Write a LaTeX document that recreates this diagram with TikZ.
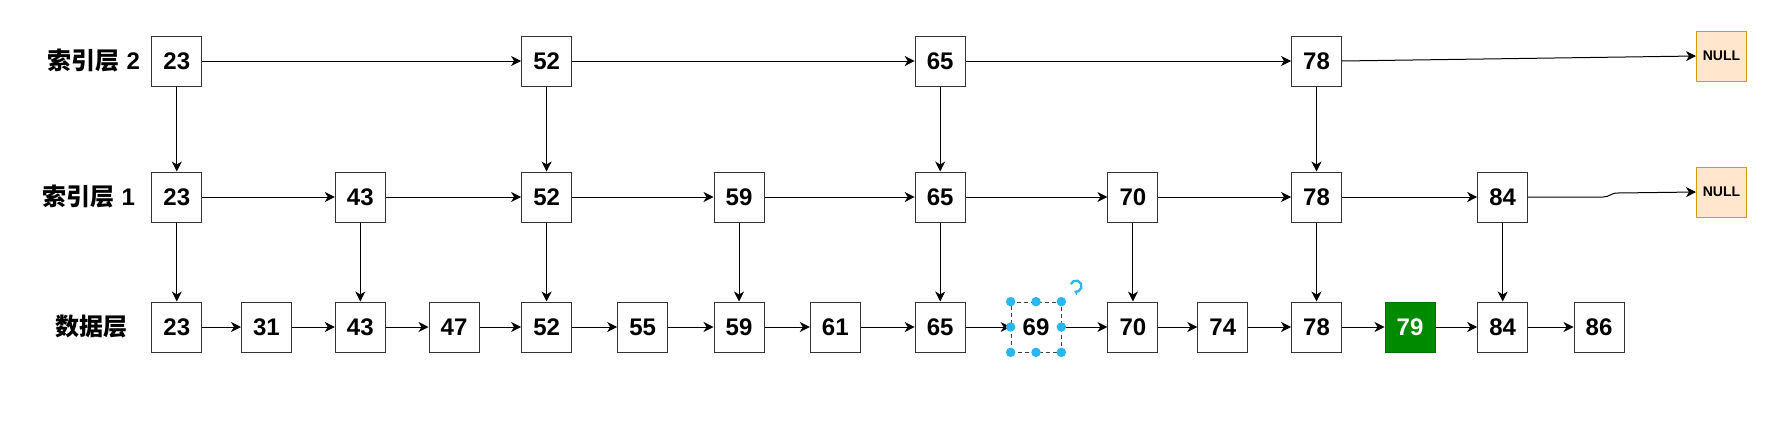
\documentclass[tikz,border=0pt]{standalone}
\usepackage{fontspec}
\setmainfont{Liberation Sans}
\newfontfamily\cjk{Noto Sans CJK SC}
\usetikzlibrary{arrows.meta}
\definecolor{nullfill}{HTML}{FFE6CC}
\definecolor{nulldraw}{HTML}{D79B00}
\definecolor{selblue}{HTML}{29B6F2}
\definecolor{greenfill}{HTML}{008A00}
\begin{document}
\begin{tikzpicture}[x=1pt,y=-1pt,
  cell/.style={draw=black!80, line width=1pt, fill=white, minimum width=50pt, minimum height=50pt, inner sep=0pt, font=\fontsize{24}{24}\selectfont\bfseries},
  greencell/.style={cell, fill=greenfill, draw=greenfill!80!black, text=white},
  selcell/.style={cell, draw=black!75, line width=0.7pt, dash pattern=on 4pt off 3pt},
  nullcell/.style={draw=nulldraw, line width=1pt, fill=nullfill, minimum width=50pt, minimum height=50pt, inner sep=0pt, font=\fontsize{14}{14}\selectfont\bfseries},
  layerlabel/.style={inner sep=0pt, font=\fontsize{24}{24}\selectfont\bfseries},
  link/.style={-{Stealth[length=10pt,width=10pt,inset=3pt]}, line width=1pt, black},
  handle/.style={circle, fill=selblue, inner sep=0pt, minimum size=9.5pt}
]
\useasboundingbox (0,0) rectangle (1765,434);

% labels
\node[layerlabel] (l2) at (94,61) {{\cjk\bfseries 索引层} 2};
\node[layerlabel] (l1) at (89,197) {{\cjk\bfseries 索引层} 1};
\node[layerlabel] (l0) at (91.5,327) {{\cjk\bfseries 数据层}};

% index level 2
\node[cell] (a23) at (176.8,61) {23};
\node[cell] (a52) at (546.6,61) {52};
\node[cell] (a65) at (940.2,61) {65};
\node[cell] (a78) at (1316.5,61) {78};
\node[nullcell] (anull) at (1721.5,56) {NULL};

% index level 1
\node[cell] (b23) at (176.8,197) {23};
\node[cell] (b43) at (360.3,197) {43};
\node[cell] (b52) at (546.6,197) {52};
\node[cell] (b59) at (739,197) {59};
\node[cell] (b65) at (940.2,197) {65};
\node[cell] (b70) at (1132.9,197) {70};
\node[cell] (b78) at (1316.5,197) {78};
\node[cell] (b84) at (1502.7,197) {84};
\node[nullcell] (bnull) at (1721.5,192) {NULL};

% data level
\node[cell] (c23) at (176.8,327) {23};
\node[cell] (c31) at (266.5,327) {31};
\node[cell] (c43) at (360.3,327) {43};
\node[cell] (c47) at (454,327) {47};
\node[cell] (c52) at (546.6,327) {52};
\node[cell] (c55) at (642.7,327) {55};
\node[cell] (c59) at (739,327) {59};
\node[cell] (c61) at (835.3,327) {61};
\node[cell] (c65) at (940.2,327) {65};
\node[selcell] (c69) at (1036,327) {69};
\node[cell] (c70) at (1132.9,327) {70};
\node[cell] (c74) at (1222.8,327) {74};
\node[cell] (c78) at (1316.5,327) {78};
\node[greencell] (c79) at (1410,327) {79};
\node[cell] (c84) at (1502.7,327) {84};
\node[cell] (c86) at (1599,327) {86};

% level 2 horizontal
\draw[link] (a23) -- (a52);
\draw[link] (a52) -- (a65);
\draw[link] (a65) -- (a78);
\draw[link] (a78.east) -- (anull.west);

% level 1 horizontal
\draw[link] (b23) -- (b43);
\draw[link] (b43) -- (b52);
\draw[link] (b52) -- (b59);
\draw[link] (b59) -- (b65);
\draw[link] (b65) -- (b70);
\draw[link] (b70) -- (b78);
\draw[link] (b78) -- (b84);
\coordinate (bk1) at (1603,197);
\coordinate (bk2) at (1618,193);
\draw[link] (b84.east) -- (bk1) .. controls (1610,197) and (1610,193) .. (bk2) -- (bnull.west);

% data horizontal
\draw[link] (c23) -- (c31);
\draw[link] (c31) -- (c43);
\draw[link] (c43) -- (c47);
\draw[link] (c47) -- (c52);
\draw[link] (c52) -- (c55);
\draw[link] (c55) -- (c59);
\draw[link] (c59) -- (c61);
\draw[link] (c61) -- (c65);
\draw[link] (c65) -- (c69);
\draw[link] (c69) -- (c70);
\draw[link] (c70) -- (c74);
\draw[link] (c74) -- (c78);
\draw[link] (c78) -- (c79);
\draw[link] (c79) -- (c84);
\draw[link] (c84) -- (c86);

% vertical
\draw[link] (a23) -- (b23);
\draw[link] (a52) -- (b52);
\draw[link] (a65) -- (b65);
\draw[link] (a78) -- (b78);
\draw[link] (b23) -- (c23);
\draw[link] (b43) -- (c43);
\draw[link] (b52) -- (c52);
\draw[link] (b59) -- (c59);
\draw[link] (b65) -- (c65);
\draw[link] (b70) -- (c70);
\draw[link] (b78) -- (c78);
\draw[link] (b84) -- (c84);

% selection handles on 69
\foreach \p/\n in {north west/h1, north/h2, north east/h3, west/h4, east/h5, south west/h6, south/h7, south east/h8}
  \node[handle] (\n) at (c69.\p) {};
\coordinate (rot) at (1076,286);
\draw[selblue, line width=2.3pt, -{Stealth[length=4pt,width=6pt]}] (rot) ++(200:5.5) arc[start angle=200, end angle=470, radius=5.5];
\end{tikzpicture}
\end{document}
